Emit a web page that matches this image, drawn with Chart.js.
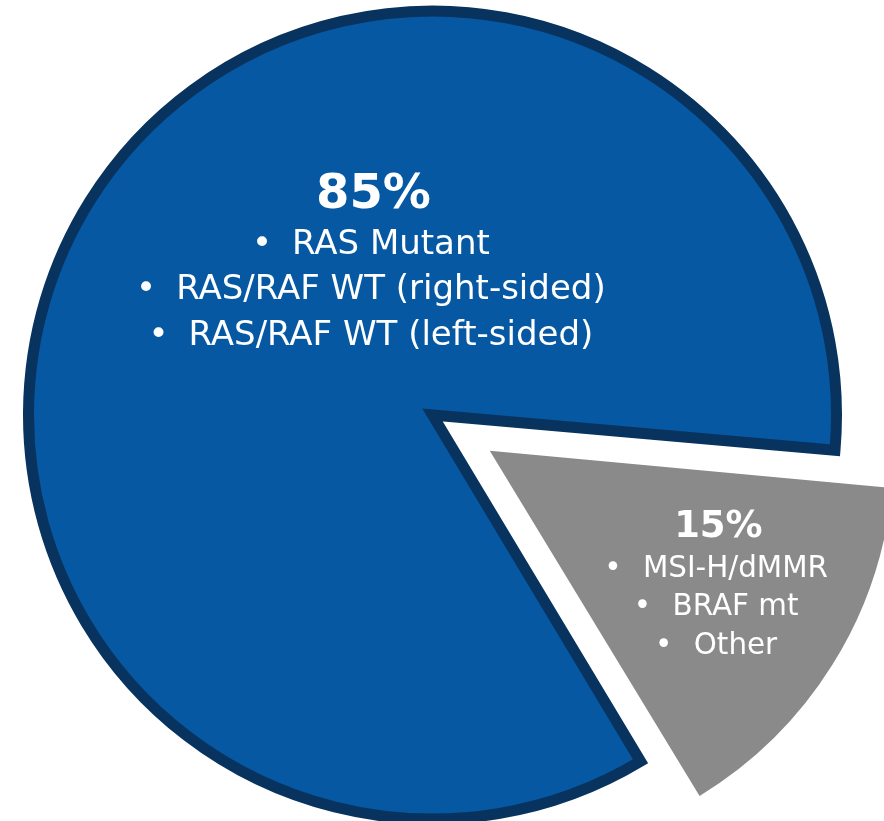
<!DOCTYPE html>
<html>
<head>
<meta charset="utf-8">
<script src="https://cdn.jsdelivr.net/npm/chart.js@4/dist/chart.umd.min.js"></script>
<style>
  html, body { margin: 0; padding: 0; background: #ffffff; overflow: hidden; }
  #wrap { width: 884px; height: 821px; position: relative; }
  canvas { display: block; }
</style>
</head>
<body>
<div id="wrap"><canvas id="pie" width="884" height="821"></canvas></div>
<script>
// Share of patients per group (percent)
const groups = ['RAS / RAF group', 'Other biomarkers'];
const shares = [85, 15];
// Bullet lines written inside each slice
const bulletsMain = ['RAS Mutant', 'RAS/RAF WT (right-sided)', 'RAS/RAF WT (left-sided)'];
const bulletsSmall = ['MSI-H/dMMR', 'BRAF mt', 'Other'];
const sliceBullets = [bulletsMain, bulletsSmall];

const fillColors = ['#0658a3', '#8a8a8a'];
const edgeColors = ['#08335e', '#8a8a8a'];

// Text placement inside each slice, relative to the slice apex, in units of the pie radius
const labelStyle = [
  { dx: -0.146, dy: -0.5136, titleSize: 48, size: 34, firstGap: 46, lineGap: 45.7, bulletGap: 30 },
  { dx: 0.566, dy: 0.214, titleSize: 37, size: 29.4, firstGap: 40, lineGap: 38.2, bulletGap: 30 }
];

const FONT = '"DejaVu Sans", Verdana, sans-serif';

// Keep an exploded slice at the same radius as the rest of the pie
const sameRadiusPlugin = {
  id: 'sameRadius',
  afterDatasetUpdate(chart, args) {
    args.meta.data.forEach(arc => {
      const off = (arc.options && arc.options.offset) || 0;
      if (off > 0) {
        const fix = 1 - Math.sin(Math.min(Math.PI, arc.circumference));
        arc.outerRadius -= (off / 4) * fix;
      }
    });
  }
};

// Percent headline plus bulleted list in each slice
const sliceTextPlugin = {
  id: 'sliceText',
  afterDatasetsDraw(chart) {
    const meta = chart.getDatasetMeta(0);
    const R = meta.controller.outerRadius;
    const ctx = chart.ctx;
    ctx.save();
    ctx.fillStyle = '#ffffff';
    ctx.textBaseline = 'alphabetic';
    meta.data.forEach((arc, i) => {
      const st = labelStyle[i];
      const mid = (arc.startAngle + arc.endAngle) / 2;
      const shift = ((arc.options && arc.options.offset) || 0) / 4;
      const ax = arc.x + Math.cos(mid) * shift;
      const ay = arc.y + Math.sin(mid) * shift;
      const cx = ax + st.dx * R;
      let y = ay + st.dy * R;

      ctx.font = 'bold ' + st.titleSize + 'px ' + FONT;
      ctx.textAlign = 'center';
      ctx.fillText(shares[i] + '%', cx, y);

      y += st.firstGap;
      ctx.font = st.size + 'px ' + FONT;
      sliceBullets[i].forEach(line => {
        const tw = ctx.measureText(line).width;
        const dotR = st.size * 0.14;
        const total = dotR + st.bulletGap + tw;
        const left = cx - total / 2;
        ctx.textAlign = 'center';
        ctx.fillText('\u2022', left + dotR, y);
        ctx.textAlign = 'left';
        ctx.fillText(line, left + dotR + st.bulletGap, y);
        y += st.lineGap;
      });
    });
    ctx.restore();
  }
};

new Chart(document.getElementById('pie'), {
  type: 'pie',
  data: {
    labels: groups,
    datasets: [{
      data: shares,
      backgroundColor: fillColors,
      borderColor: edgeColors,
      borderWidth: [11, 0],
      borderAlign: 'center',
      borderJoinStyle: 'miter',
      offset: [0, 270]
    }]
  },
  options: {
    responsive: false,
    animation: false,
    events: [],
    rotation: 149,
    radius: 404,
    layout: { padding: { left: 0, right: 19, top: 9, bottom: 0 } },
    plugins: {
      legend: { display: false },
      tooltip: { enabled: false }
    }
  },
  plugins: [sameRadiusPlugin, sliceTextPlugin]
});
</script>
</body>
</html>
